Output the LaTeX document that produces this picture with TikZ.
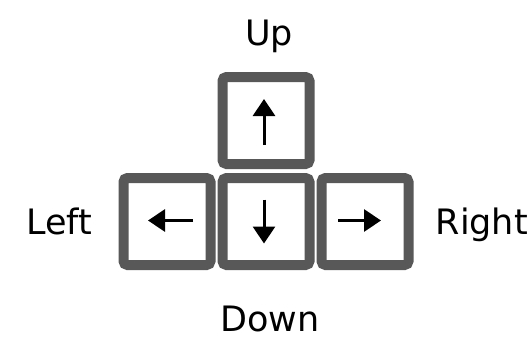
\documentclass[tikz,border=0pt]{standalone}
\usepackage{fontspec}
\setmainfont{DejaVu Sans}
\usepackage{tikz}
\usetikzlibrary{arrows.meta,positioning,calc}
\definecolor{keyedge}{RGB}{88,88,88}

\begin{document}
\begin{tikzpicture}[
  key/.style={draw=keyedge, line width=10pt, fill=white, rounded corners=4pt, minimum size=87pt, inner sep=0pt},
  lbl/.style={inner sep=0pt, font=\fontsize{35}{40}\selectfont},
  keyarr/.style={-{Triangle[length=17pt, width=22pt]}, line width=3pt},
]
  \useasboundingbox (0,0) rectangle (528pt,-338pt);
  % keys
  \node[key] (up) at (266pt,-120.5pt) {};
  \node[key, below=4pt of up] (down) {};
  \node[key, left=2pt of down] (left) {};
  \node[key, right=2pt of down] (right) {};
  % arrows on the keys
  \draw[keyarr] ($(up.center)+(-2pt,-24.5pt)$) -- ($(up.center)+(-2pt,21.5pt)$);
  \draw[keyarr] ($(down.center)+(-2pt,22pt)$) -- ($(down.center)+(-2pt,-22pt)$);
  \draw[keyarr] ($(left.center)+(26pt,1pt)$) -- ($(left.center)+(-19pt,1pt)$);
  \draw[keyarr] ($(right.center)+(-27pt,1pt)$) -- ($(right.center)+(16pt,1pt)$);
  % labels
  \node[lbl, above=27pt of up, anchor=base, xshift=3pt] (uptext) {Up};
  \node[lbl, below=61pt of down, anchor=base, xshift=4pt] (downtext) {Down};
  \node[lbl, left=26pt of left, anchor=base east, yshift=-12.5pt] (lefttext) {Left};
  \node[lbl, right=22pt of right, anchor=base west, yshift=-13pt] (righttext) {Right};
\end{tikzpicture}
\end{document}
